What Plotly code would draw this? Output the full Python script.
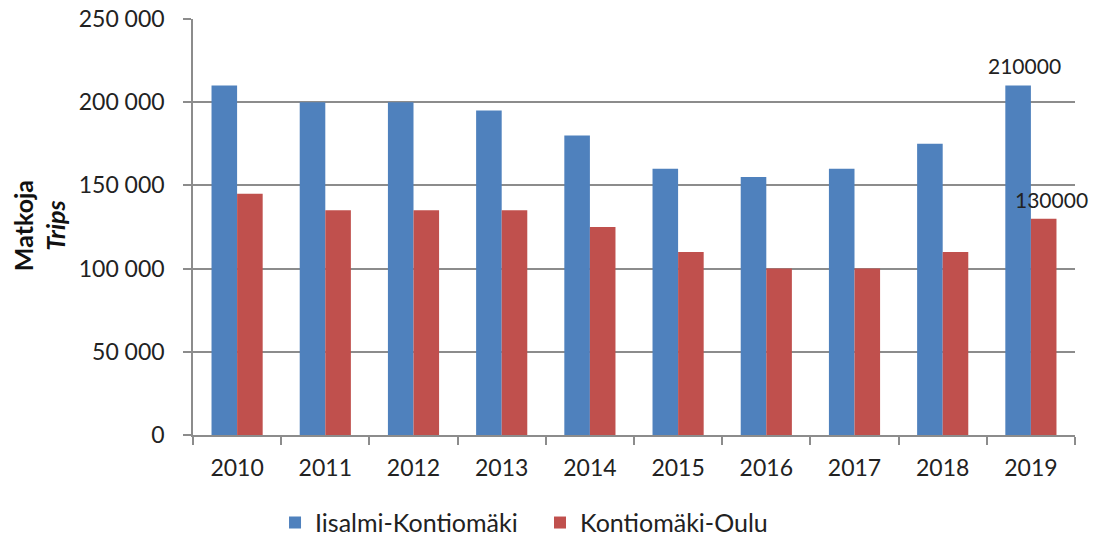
import plotly.graph_objects as go

years = ["2010", "2011", "2012", "2013", "2014", "2015", "2016", "2017", "2018", "2019"]
iisalmi_kontiomaki = [210000, 200000, 200000, 195000, 180000, 160000, 155000, 160000, 175000, 210000]
kontiomaki_oulu = [145000, 135000, 135000, 135000, 125000, 110000, 100000, 100000, 110000, 130000]
labels_blue = ["", "", "", "", "", "", "", "", "", "210000"]
labels_red = ["", "", "", "", "", "", "", "", "", "130000"]
y_ticks = [0, 50000, 100000, 150000, 200000, 250000]

FONT = "Lato, 'Open Sans', sans-serif"
GRID = "#8c8c8c"
FS = 23

fig = go.Figure()
fig.add_trace(go.Bar(
    name="Iisalmi-Kontiomäki", x=years, y=iisalmi_kontiomaki,
    marker=dict(color="#4f81bd", line=dict(width=0)),
))
fig.add_trace(go.Bar(
    name="Kontiomäki-Oulu", x=years, y=kontiomaki_oulu,
    marker=dict(color="#c0504d", line=dict(width=0)),
))

annotations = [dict(
    text="<b>Matkoja</b><br><b><i>Trips</i></b>", textangle=-90,
    xref="paper", yref="paper", x=-0.1746, y=0.502,
    xanchor="center", yanchor="middle",
    showarrow=False, font=dict(size=25, family=FONT, color="#111111"),
)]
for i, (val, lab) in enumerate(zip(iisalmi_kontiomaki, labels_blue)):
    if lab:
        annotations.append(dict(text=lab, x=i, y=val, xref="x", yref="y",
                                xanchor="center", yanchor="bottom", xshift=-6, yshift=6,
                                showarrow=False, font=dict(size=21, family=FONT, color="#222222")))
for i, (val, lab) in enumerate(zip(kontiomaki_oulu, labels_red)):
    if lab:
        annotations.append(dict(text=lab, x=i, y=val, xref="x", yref="y",
                                xanchor="center", yanchor="bottom", xshift=21, yshift=5,
                                showarrow=False, font=dict(size=21, family=FONT, color="#222222")))

fig.update_layout(
    width=1090, height=529,
    margin=dict(l=185, r=23, t=11, b=102, autoexpand=False),
    paper_bgcolor="white", plot_bgcolor="white",
    barmode="group", bargap=0.42, bargroupgap=0,
    separators=", ",
    font=dict(family=FONT, size=FS, color="#222222"),
    showlegend=True,
    legend=dict(orientation="h", x=0.093, xanchor="left", y=-0.211, yanchor="middle",
                font=dict(size=25, family=FONT), itemwidth=30, tracegroupgap=0,
                entrywidth=220),
    annotations=annotations,
)
fig.update_xaxes(
    type="category", range=[-0.5, len(years) - 0.5],
    showline=True, linecolor=GRID, linewidth=1.5, automargin=False,
    ticks="outside", ticklen=8, tickcolor=GRID, tickwidth=1.5,
    tickson="boundaries", showgrid=False,
    tickfont=dict(size=FS, family=FONT), ticklabelstandoff=12,
)
fig.update_yaxes(
    range=[0, 250000], tickvals=y_ticks, tickformat=",d", automargin=False,
    ticklabeloverflow="allow",
    showline=True, linecolor=GRID, linewidth=1.5,
    ticks="outside", ticklen=8, tickcolor=GRID, tickwidth=1.5,
    showgrid=True, gridcolor=GRID, gridwidth=1.5,
    zeroline=False, tickfont=dict(size=FS, family=FONT), ticklabelstandoff=14,
)

fig.write_html("out.html")
